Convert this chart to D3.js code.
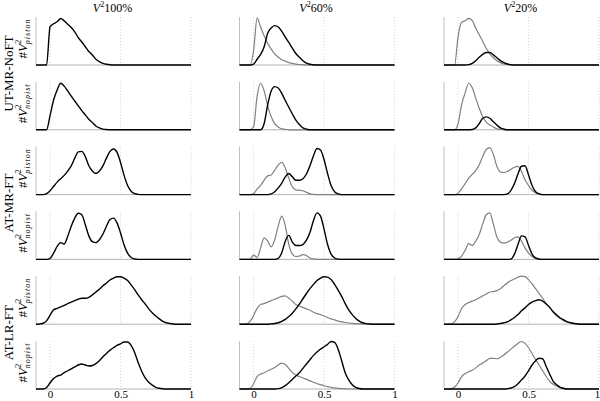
<!DOCTYPE html>
<html>
<head>
<meta charset="utf-8">
<script src="https://cdn.jsdelivr.net/npm/d3@7"></script>
<style>
body { margin: 0; background: #fff; }
text { font-family: "Liberation Serif", "Times New Roman", serif; fill: #000; }
</style>
</head>
<body>
<div id="chart"></div>
<script>
// Density curves, sampled at x = -0.1, -0.075, ... (step 0.025), values in % of panel max.
// Missing tail values are zero.
var xStart = -0.1;
var xStep = 0.025;
var xTicks = [0, 0.5, 1];
var colTitles = ["100%", "60%", "20%"];
var groupLabels = ["UT-MR-NoFT", "AT-MR-FT", "AT-LR-FT"];
var rowSubs = ["piston", "nopist"];

// V^2 100%
var utPis100 = [0,0,0,0,80,86,90,97,92,85,78,69,57,48,38,28,21,12,7,3.5,1.5,0.5];
var utNop100 = [0,0,0,0,30,62,83,97,91,81,70,60,50,40,31,22,15,8,4,1.5,0.5];
var amPis100 = [0,0,0,2,8,17,26,33,40,49,60,76,89,90,79,60,49,44,49,60,76,90,95,88,67,40,19,7,2,0.5];
var amNop100 = [0,0,0,0,2,13,27,35,32,48,69,86,96,93,72,49,37,35,41,53,69,83,86,76,55,30,13,4,1];
var alPis100 = [0,0.5,2,7,19,30,33,36,39,43,46,49,52,54,54,56,61,67,73,80,86,92,96,99,99,96,91,82,72,61,51,42,32,24,17,11,6,3,1.5,0.5];
var alNop100 = [0,0,0,3,13,22,27,29,34,38,42,46,50,52,50,48,49,53,59,67,74,81,86,91,94,98,98,91,76,55,37,23,14,8,3.5,1.5,0.5];

// V^2 60%
var utPis60Gray = [0,0,0,0,30,98,79,61,45,33,23,16,11,8,5,3.5,2,1,0.5];
var utPis60 = [0,0,0,0,2,12,22,38,66,77,82,79,70,58,47,35,24,16,9,4,1.5,0.5];
var utNop60Gray = [0,0,0,0,6,70,97,81,50,27,13,6,2,1];
var utNop60 = [0,0,0,0,0,0,0,13,52,81,90,87,76,61,47,33,20,11,4,1.5];
var amPis60Gray = [0,0,0,0,1.5,12,19,30,39,41,51,62,67,55,34,16,10,9,8,5,1.5,0.5];
var amPis60 = [0,0,0,0,0,0,0,0,0,1.5,6,14,24,37,44,37,30,30,33,43,60,81,96,93,73,44,19,6,1.5];
var amNop60Gray = [0,0,0,0.5,9,4,24,45,38,26,41,70,90,70,31,11,6,7,10,8,3,1];
var amNop60 = [0,0,0,0,0,0,0,0,0,0,0,2,14,38,50,36,29,29,31,40,56,81,97,90,63,31,11,3,0.5];
var alPis60Gray = [0,0,1,6,18,33,41,43,46,49,52,55,58,59,54,48,41,38,35,32,29,25,22,20,17,14,11,9,6.5,5,3.6,2.5,1.8,1.2,0.8,0.5,0.3];
var alPis60 = [0,0,0,0,0,0,0,0,0,0.7,1.5,3,6,10,16,23,32,42,53,64,74,83,91,96,99,98,93,83,71,58,43,30,20,12,6.5,3,1.2,0.4];
var alNop60Gray = [0,0,0,1.5,11,26,31,34,38,41,45,50,54,51,43,34,29,26,23,20,17,14,11,9,7,5,3.5,2.2,1.3,0.7,0.3];
var alNop60 = [0,0,0,0,0,0,0,0,0,0,0,0.7,3,7,13,20,27,34,43,52,61,70,77,83,88,93,99,97,83,59,34,19,9,3.5,1];

// V^2 20%
var utPis20Gray = [0,0,0,0,59,89,92,97,93,77,63,49,35,23,15,9,5,2,1];
var utPis20 = [0,0,0,0,0,0,0,0.7,3.5,9,16,22,26,26,21,15,9,5,2,0.7];
var utNop20Gray = [0,0,0,0,13,52,77,97,88,66,45,27,16,10,6,2,1];
var utNop20 = [0,0,0,0,0,0,0,0,0.7,4,13,24,27,24,17,10,4,1.5];
var amPis20Gray = [0,0,0,0,3,12,23,34,42,50,62,80,94,98,84,59,47,46,48,53,57,59,48,31,19,9,4,1];
var amPis20 = [0,0,0,0,0,0,0,0,0,0,0,0,0,0,0,0,0,0,1.5,9,23,43,59,60,41,19,6,1.5];
var amNop20Gray = [0,0,0,0,1.5,7,19,33,29,38,52,74,93,97,74,47,36,34,36,40,45,47,38,24,13,6,2,0.7];
var amNop20 = [0,0,0,0,0,0,0,0,0,0,0,0,0,0,0,0,0,0,0,0.7,11,31,49,47,29,11,3,0.7];
var alPis20Gray = [0,0,1,5,16,33,41,45,48,51,55,59,63,67,68,70,74,80,86,91,94,98,100,99,93,84,74,64,54,43,35,25,17,12,7,4.5,2.5,1.2,0.5];
var alPis20 = [0,0,0,0,0,0,0,0,0,0,0,0,0,0,0,0.5,1.5,3,5,9,14,20,28,34,41,46,49,51,48,42,35,26,19,13,9,5,3,1.5,0.5];
var alNop20Gray = [0,0,0.7,4,13,26,32,36,39,44,50,54,59,64,64,63,66,71,77,83,89,95,99,95,86,74,61,50,38,26,16,10,6,3,1.5,0.5];
var alNop20 = [0,0,0,0,0,0,0,0,0,0,0,0,0,0,0,0,0,0,0.7,2,5,11,19,27,38,50,59,64,63,47,31,16,9,3.5,1];

// panel grid: [black, gray] for each row / column
var panels = [
    [[utPis100, null], [utPis60, utPis60Gray], [utPis20, utPis20Gray]],
    [[utNop100, null], [utNop60, utNop60Gray], [utNop20, utNop20Gray]],
    [[amPis100, null], [amPis60, amPis60Gray], [amPis20, amPis20Gray]],
    [[amNop100, null], [amNop60, amNop60Gray], [amNop20, amNop20Gray]],
    [[alPis100, null], [alPis60, alPis60Gray], [alPis20, alPis20Gray]],
    [[alNop100, null], [alNop60, alNop60Gray], [alNop20, alNop20Gray]]
];

var width = 600;
var height = 401;
var colLeft = [36, 239.5, 444];
var panelW = 155;
var panelH = 48;
var firstBase = 65;
var rowStep = 64.8;
var nPts = 45; // -0.1 .. 1.0

var svg = d3.select("#chart")
    .append("svg")
    .attr("width", width)
    .attr("height", height);

function pad(arr) {
    var out = [];
    for (var i = 0; i < nPts; i++) {
        out.push(i < arr.length ? arr[i] : 0);
    }
    return out;
}

panels.forEach(function(row, r) {
    var base = firstBase + r * rowStep;
    var y = d3.scaleLinear().domain([0, 100]).range([base, base - panelH]);

    row.forEach(function(pair, c) {
        var x = d3.scaleLinear().domain([-0.1, 1]).range([colLeft[c], colLeft[c] + panelW]);
        var g = svg.append("g");

        // dotted grid
        g.selectAll("line.grid")
            .data(xTicks)
            .enter()
            .append("line")
            .attr("x1", function(d) { return x(d); })
            .attr("x2", function(d) { return x(d); })
            .attr("y1", y(100))
            .attr("y2", base)
            .attr("stroke", "#c8c8c8")
            .attr("stroke-width", 0.8)
            .attr("stroke-dasharray", "1,2");

        // left spine + baseline
        g.append("line")
            .attr("x1", x(-0.1)).attr("x2", x(-0.1))
            .attr("y1", y(100)).attr("y2", base)
            .attr("stroke", "#b0b0b0")
            .attr("stroke-width", 0.8);
        g.append("line")
            .attr("x1", x(-0.1)).attr("x2", x(1))
            .attr("y1", base).attr("y2", base)
            .attr("stroke", "#a0a0a0")
            .attr("stroke-width", 0.8);

        var line = d3.line()
            .x(function(d, i) { return x(xStart + i * xStep); })
            .y(function(d) { return y(d); })
            .curve(d3.curveMonotoneX);

        if (pair[1]) {
            g.append("path")
                .attr("d", line(pad(pair[1])))
                .attr("fill", "none")
                .attr("stroke", "#808080")
                .attr("stroke-width", 1.2);
        }
        g.append("path")
            .attr("d", line(pad(pair[0])))
            .attr("fill", "none")
            .attr("stroke", "#000")
            .attr("stroke-width", 1.4);

        // tick labels under the last row
        if (r === panels.length - 1) {
            var axis = d3.axisBottom(x).tickValues(xTicks).tickSize(0).tickPadding(1)
                .tickFormat(d3.format("~g"));
            var ax = svg.append("g")
                .attr("transform", `translate(0, ${base})`)
                .call(axis);
            ax.select(".domain").remove();
            ax.selectAll("text")
                .attr("font-family", "Liberation Serif, serif")
                .attr("font-size", 11)
                .attr("fill", "#000")
                .attr("dx", function(d) { return (c === 2 && d === 1) ? -2 : 0; });
        }
    });

    // y label  #V^2_sub
    var yl = svg.append("text")
        .attr("transform", `translate(26.5, ${base - 26.5}) rotate(-90)`)
        .attr("text-anchor", "middle")
        .attr("font-size", 13);
    yl.append("tspan").text("#");
    yl.append("tspan").attr("font-style", "italic").text("V");
    yl.append("tspan").attr("font-size", 8.5).attr("dy", -5.5).text("2");
    yl.append("tspan").attr("font-size", 8).attr("font-style", "italic")
        .attr("letter-spacing", 1)
        .attr("dx", -4.5).attr("dy", 9).text(rowSubs[r % 2]);
});

// group labels
groupLabels.forEach(function(label, k) {
    var top = firstBase + 2 * k * rowStep - panelH;
    var bottom = firstBase + (2 * k + 1) * rowStep;
    svg.append("text")
        .attr("transform", `translate(13, ${(top + bottom) / 2}) rotate(-90)`)
        .attr("text-anchor", "middle")
        .attr("font-size", 13)
        .text(label);
});

// column titles
colTitles.forEach(function(t, c) {
    var tt = svg.append("text")
        .attr("x", colLeft[c] + panelW / 2 - 1)
        .attr("y", 12)
        .attr("text-anchor", "middle")
        .attr("font-size", 12);
    tt.append("tspan").attr("font-style", "italic").text("V");
    tt.append("tspan").attr("font-size", 8).attr("dy", -5).text("2");
    tt.append("tspan").attr("dy", 5).text(t);
});
</script>
</body>
</html>
